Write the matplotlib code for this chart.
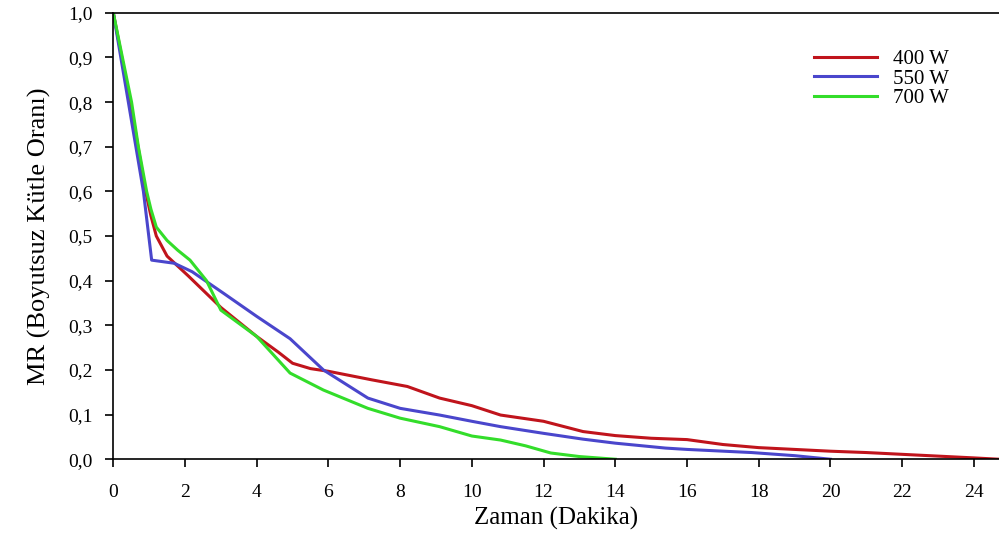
import numpy as np
import matplotlib.pyplot as plt

plt.rcParams['font.family'] = ['Liberation Serif', 'DejaVu Serif']

# 400 W
t_400 = [0, 0.5, 0.9, 1.05, 1.2, 1.5, 2.1, 3.0, 4.0, 4.6, 5.0, 5.5, 6.0, 7.2, 8.2, 9.1,
         10.0, 10.8, 12.0, 13.1, 14.0, 15.0, 16.0, 17.0, 18.0, 19.0, 20.0, 21.0, 22.0,
         23.0, 24.0, 24.7]
mr_400 = [1.0, 0.79, 0.60, 0.545, 0.50, 0.455, 0.41, 0.34, 0.275, 0.24, 0.215, 0.203,
          0.197, 0.178, 0.163, 0.137, 0.12, 0.099, 0.085, 0.062, 0.053, 0.047, 0.044,
          0.033, 0.026, 0.022, 0.018, 0.015, 0.011, 0.007, 0.003, 0.0]
# 550 W
t_550 = [0, 0.84, 1.07, 1.7, 2.2, 3.07, 4.0, 4.93, 5.86, 7.1, 8.0, 9.1, 10.0, 10.8, 12.0,
         13.1, 14.0, 15.4, 16.0, 17.8, 19.0, 20.0]
mr_550 = [1.0, 0.60, 0.446, 0.439, 0.42, 0.372, 0.32, 0.27, 0.2, 0.137, 0.114, 0.099,
          0.085, 0.073, 0.058, 0.045, 0.036, 0.025, 0.022, 0.015, 0.008, 0.0]
# 700 W
t_700 = [0, 0.51, 0.70, 0.93, 1.05, 1.2, 1.5, 1.8, 2.14, 2.6, 3.0, 4.0, 4.93, 5.86, 7.1,
         8.0, 9.1, 10.0, 10.8, 11.5, 12.2, 13.0, 14.0]
mr_700 = [1.0, 0.80, 0.70, 0.60, 0.56, 0.52, 0.49, 0.468, 0.446, 0.40, 0.334, 0.275,
          0.193, 0.155, 0.114, 0.092, 0.073, 0.052, 0.043, 0.03, 0.014, 0.006, 0.0]

fig = plt.figure(figsize=(9.99, 5.34), dpi=100)
ax = fig.add_axes([0.1134, 0.140, 0.8866, 0.836])

ax.plot(t_400, mr_400, color='#c0141c', linewidth=2.2, label='400 W')
ax.plot(t_550, mr_550, color='#4a46cc', linewidth=2.2, label='550 W')
ax.plot(t_700, mr_700, color='#33dd2a', linewidth=2.2, label='700 W')

ax.set_xlim(0, 24.7)
ax.set_ylim(0, 1.0)
ax.set_xticks(np.arange(0, 25, 2))
ax.set_yticks(np.arange(0, 1.01, 0.1))
ax.set_yticklabels(["{:.1f}".format(v).replace(".", ",") for v in np.arange(0, 1.01, 0.1)])
ax.spines['right'].set_visible(False)
ax.tick_params(direction='out', length=6, width=1.2, labelsize=14, top=False, right=False)
ax.tick_params(axis='x', pad=12)
ax.tick_params(axis='y', pad=9)
for s in ['left', 'bottom', 'top']:
    ax.spines[s].set_linewidth(1.2)

ax.set_xlabel("Zaman (Dakika)", fontsize=18, labelpad=4)
ax.set_ylabel("MR (Boyutsuz Kütle Oranı)", fontsize=19, labelpad=12)

ax.legend(loc='upper left', bbox_to_anchor=(0.77, 0.96), frameon=False, fontsize=15,
          handlelength=3.0, labelspacing=0.0)

fig.savefig("out.png")
